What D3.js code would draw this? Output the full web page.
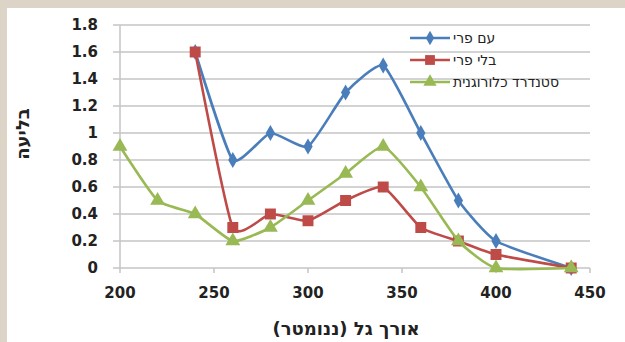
<!DOCTYPE html>
<html><head><meta charset="utf-8">
<script src="https://cdn.jsdelivr.net/npm/d3@7"></script>
<style>
html,body{margin:0;padding:0;background:#ddd4c8;}
svg{display:block;}
</style></head>
<body>
<svg id="chart" width="625" height="342"></svg>
<script>
const seriesNames = ["עם פרי", "בלי פרי", "סטנדרד כלורוגנית"];
const seriesColors = ["#4a7ebb", "#be4b48", "#98b954"];
const wlWithFruit = [240, 260, 280, 300, 320, 340, 360, 380, 400, 440];
const absWithFruit = [1.6, 0.8, 1.0, 0.9, 1.3, 1.5, 1.0, 0.5, 0.2, 0];
const wlNoFruit = [240, 260, 280, 300, 320, 340, 360, 380, 400, 440];
const absNoFruit = [1.6, 0.3, 0.4, 0.35, 0.5, 0.6, 0.3, 0.2, 0.1, 0];
const wlStandard = [200, 220, 240, 260, 280, 300, 320, 340, 360, 380, 400, 440];
const absStandard = [0.9, 0.5, 0.4, 0.2, 0.3, 0.5, 0.7, 0.9, 0.6, 0.2, 0, 0];
const xTicks = [200, 250, 300, 350, 400, 450];
const yTicks = [0, 0.2, 0.4, 0.6, 0.8, 1, 1.2, 1.4, 1.6, 1.8];
const xTitle = "אורך גל (ננומטר)";
const yTitle = "בליעה";

const svg = d3.select("#chart");
svg.append("rect").attr("x", 7).attr("y", 8).attr("width", 618).attr("height", 334).attr("fill", "#ffffff");

const x = d3.scaleLinear().domain([200, 450]).range([120, 590]);
const y = d3.scaleLinear().domain([0, 1.8]).range([268, 25]);

// gridlines
svg.append("g").selectAll("line").data(yTicks).join("line")
  .attr("x1", 113).attr("x2", 590)
  .attr("y1", d => y(d)).attr("y2", d => y(d))
  .attr("stroke", "#c4c4c4").attr("stroke-width", 1.5);

// y axis line
svg.append("line").attr("x1", 120).attr("x2", 120).attr("y1", y(1.8)).attr("y2", 268)
  .attr("stroke", "#c4c4c4").attr("stroke-width", 1.5);
// x ticks
svg.append("g").selectAll("line").data(xTicks).join("line")
  .attr("x1", d => x(d)).attr("x2", d => x(d)).attr("y1", 268).attr("y2", 273)
  .attr("stroke", "#c4c4c4").attr("stroke-width", 1.5);

const tickFont = "DejaVu Sans, sans-serif";
svg.append("g").selectAll("text").data(yTicks).join("text")
  .attr("x", 98).attr("y", d => y(d)).attr("dy", "0.36em")
  .attr("text-anchor", "end").attr("font-family", tickFont).attr("font-weight", "bold")
  .attr("font-size", 15).attr("fill", "#222")
  .text(d => d3.format("~g")(d));
svg.append("g").selectAll("text").data(xTicks).join("text")
  .attr("x", d => x(d)).attr("y", 298)
  .attr("text-anchor", "middle").attr("font-family", tickFont).attr("font-weight", "bold")
  .attr("font-size", 15).attr("fill", "#222")
  .text(d => d);

svg.append("text").attr("x", 346).attr("y", 335).attr("text-anchor", "middle")
  .attr("direction", "rtl")
  .attr("font-family", "DejaVu Sans, sans-serif").attr("font-weight", "bold").attr("font-size", 18)
  .attr("fill", "#222").text(xTitle);
svg.append("text").attr("transform", "translate(29,134) rotate(-90)").attr("text-anchor", "middle")
  .attr("direction", "rtl")
  .attr("font-family", "DejaVu Sans, sans-serif").attr("font-weight", "bold").attr("font-size", 18)
  .attr("fill", "#222").text(yTitle);

const series = [
  {wl: wlWithFruit, v: absWithFruit, shape: d3.symbolDiamond, size: 75},
  {wl: wlNoFruit, v: absNoFruit, shape: d3.symbolSquare, size: 120},
  {wl: wlStandard, v: absStandard, shape: d3.symbolTriangle, size: 95}
];
const line = d3.line().x(d => x(d[0])).y(d => y(d[1])).curve(d3.curveCardinal.tension(0.5));

series.forEach((s, i) => {
  const pts = s.wl.map((w, j) => [w, s.v[j]]);
  const g = svg.append("g");
  g.append("path").datum(pts).attr("d", line).attr("fill", "none")
    .attr("stroke", seriesColors[i]).attr("stroke-width", 2.6);
  g.selectAll("path.m").data(pts).join("path").attr("class", "m")
    .attr("transform", d => `translate(${x(d[0])},${y(d[1])})`)
    .attr("d", d3.symbol().type(s.shape).size(s.size))
    .attr("fill", seriesColors[i]);
});

// legend
const legY = [38, 60, 82];
seriesNames.forEach((n, i) => {
  const g = svg.append("g");
  g.append("line").attr("x1", 410).attr("x2", 450).attr("y1", legY[i]).attr("y2", legY[i])
    .attr("stroke", seriesColors[i]).attr("stroke-width", 2.6);
  g.append("path").attr("transform", `translate(430,${legY[i]})`)
    .attr("d", d3.symbol().type(series[i].shape).size(series[i].size * 0.8))
    .attr("fill", seriesColors[i]);
  g.append("text").attr("x", 453).attr("y", legY[i]).attr("dy", "0.35em")
    .attr("text-anchor", "start").attr("direction", "ltr").attr("unicode-bidi", "plaintext")
    .attr("font-family", "DejaVu Sans, sans-serif").attr("font-size", 14)
    .attr("fill", "#222").text(n);
});
</script>
</body></html>
